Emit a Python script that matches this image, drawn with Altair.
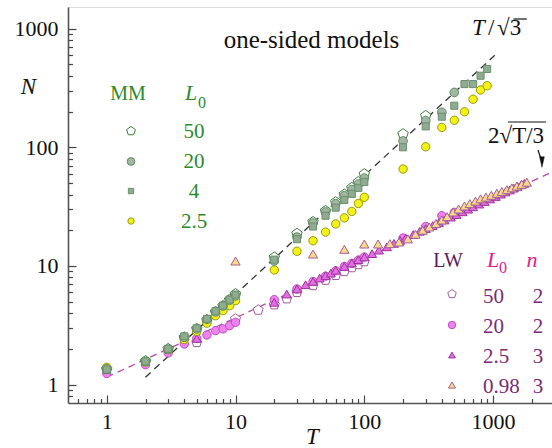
import altair as alt
import pandas as pd

# ------------------------------------------------------------------ data
# MM series
MM50_T = [1, 2, 3, 4, 5, 6, 7, 8, 9, 10, 20, 30, 40, 50, 60, 70, 80, 90, 100, 200, 300]
MM50_N = [1.35, 1.58, 2.0, 2.5, 2.95, 3.5, 4.1, 4.6, 5.2, 5.8, 11.8, 18.7, 23.5, 29.1, 34.5, 40.0, 45.5, 51.0, 59.4, 129, 184]

MM20_T = [1, 2, 3, 4, 5, 6, 7, 8, 9, 10, 20, 30, 40, 50, 60, 70, 80, 90, 100, 200, 300, 400, 500]
MM20_N = [1.36, 1.57, 1.98, 2.5, 2.95, 3.55, 4.1, 4.6, 5.15, 5.6, 11.0, 17.5, 23.0, 28.5, 33.5, 39.0, 44.0, 49.0, 55.0, 113, 168, 197, 290]

MM4_T = [1, 2, 3, 4, 5, 6, 7, 8, 9, 10, 20, 30, 40, 50, 60, 70, 80, 90, 100, 200, 300, 400, 500, 600, 700, 800, 900]
MM4_N = [1.34, 1.57, 2.0, 2.55, 2.98, 3.58, 4.15, 4.63, 5.2, 5.74, 11.3, 16.8, 21.5, 26.5, 31.0, 36.0, 40.5, 45.5, 51.0, 100, 150, 181, 224, 341, 341, 401, 457]

MM25_T = [1, 2, 3, 4, 5, 6, 7, 8, 9, 10, 20, 30, 40, 50, 60, 70, 80, 90, 100, 200, 300, 400, 500, 600, 700, 800, 900]
MM25_N = [1.40, 1.55, 1.97, 2.4, 2.81, 3.3, 3.81, 4.2, 4.63, 5.1, 9.25, 13.3, 16.3, 19.3, 22.6, 25.4, 28.8, 33.6, 37.9, 65.6, 101, 147, 169, 199, 254, 304, 330]

# LW series
LW50_T = [5, 10, 15, 20, 25, 30, 40, 50, 60, 70, 80, 90, 100]
LW50_N = [2.27, 3.58, 4.25, 4.72, 5.3, 6.0, 6.85, 7.6, 8.35, 9.0, 9.7, 10.3, 10.9]

LW20_T = [1, 2, 3, 4, 5, 6, 7, 8, 9, 10, 20, 30, 40, 50, 60, 70, 80, 90, 100, 200, 300, 400, 500]
LW20_N = [1.24, 1.47, 1.85, 2.2, 2.45, 2.62, 2.85, 2.95, 3.14, 3.35, 5.2, 6.4, 7.4, 8.2, 9.1, 9.9, 10.5, 11.2, 11.9, 17.2, 21.5, 26.5, 28.3]

LW25_T = [5, 20, 25, 30, 35, 40, 45, 50, 55, 60, 70, 80, 90, 100, 115, 130, 150, 170, 190, 210, 240, 270,
          300, 340, 380, 420, 470, 520, 580, 640, 700, 780, 860, 950, 1050, 1150, 1250, 1350, 1450, 1550, 1650, 1750]
LW25_N = [2.45, 4.94, 5.8, 6.4, 6.95, 7.4, 7.9, 8.3, 8.7, 9.2, 9.9, 10.6, 11.3, 11.9, 12.7, 13.6, 14.5, 15.5, 16.4, 17.2, 18.4, 19.6,
          20.6, 21.9, 23.2, 24.4, 25.8, 27.1, 28.6, 30.1, 31.5, 33.2, 34.9, 36.7, 38.5, 40.3, 42.0, 43.7, 45.3, 46.8, 48.3, 49.7]

LW098_T = [10, 40, 70, 100, 128, 158, 186, 218, 250, 284, 320, 360, 400, 440, 490, 540, 600, 660, 730, 800,
           880, 970, 1070, 1170, 1280, 1400, 1530, 1670, 1830]
LW098_N = [11.0, 12.6, 13.8, 15.3, 15.3, 15.4, 15.9, 16.9, 18.5, 20.0, 21.3, 22.8, 24.4, 26.0, 28.5, 30.2, 32.0, 33.5, 35.2, 36.8,
           38.0, 39.4, 41.0, 42.4, 43.9, 45.5, 47.1, 48.7, 50.8]

# guide lines  N = T/sqrt(3)  and  N = 2 sqrt(T/3)
LINE_A_T = [2, 1070]
LINE_A_N = [1.155, 617.8]
LINE_B_T = [1, 2870]
LINE_B_N = [1.155, 61.86]

# axis ticks
MAJOR = [1, 10, 100, 1000]
MINOR_X = [0.6, 0.7, 0.8, 0.9, 2, 3, 4, 5, 6, 7, 8, 9, 20, 30, 40, 50, 60, 70, 80, 90,
           200, 300, 400, 500, 600, 700, 800, 900, 2000]
MINOR_Y = [0.8, 0.9, 2, 3, 4, 5, 6, 7, 8, 9, 20, 30, 40, 50, 60, 70, 80, 90,
           200, 300, 400, 500, 600, 700, 800, 900]

# legend texts (anchors in data units)
MM_LEG_VALUES = ["50", "20", "4", "2.5"]
MM_LEG_SYM_N = [137.1, 75.9, 42.8, 23.9]
MM_LEG_TXT_N = [119.7, 66.9, 37.4, 20.9]
LW_LEG_VALUES = ["50", "20", "2.5", "0.98"]
LW_LEG_NVAL = ["2", "2", "3", "3"]
LW_LEG_SYM_N = [5.80, 3.18, 1.776, 0.992]
LW_LEG_TXT_N = [4.87, 2.72, 1.52, 0.85]

# ------------------------------------------------------------------ styling
FONT = "Liberation Serif"
W, H = 484, 396
xs = alt.Scale(type="log", domain=[0.5, 2870], nice=False)
ys = alt.Scale(type="log", domain=[0.70, 1521], nice=False)
PENT = "M0,-1L0.951,-0.309L0.588,0.809L-0.588,0.809L-0.951,-0.309Z"
ARROW = "M-0.45,-1L0.45,-1L0,1Z"

GREEN = "#2b8a2b"
PURPLE = "#7a2a78"
PINK = "#e0208c"


def xy(df):
    return dict(x=alt.X("T:Q", scale=xs, axis=None), y=alt.Y("N:Q", scale=ys, axis=None))


def pts(T, N, shape, size, fill, stroke, sw=1.0):
    df = pd.DataFrame({"T": T, "N": N})
    return alt.Chart(df).mark_point(shape=shape, size=size, filled=True, fill=fill, stroke=stroke,
                                    strokeWidth=sw, opacity=1, fillOpacity=1).encode(**xy(df))


def txt(T, N, s, size, color, align="left", style="normal"):
    df = pd.DataFrame({"T": T, "N": N, "s": s})
    return alt.Chart(df).mark_text(font=FONT, fontSize=size, color=color, align=align,
                                   baseline="alphabetic", fontStyle=style).encode(text="s:N", **xy(df))


def line(T, N, color, dash, width=1.3):
    df = pd.DataFrame({"T": T, "N": N})
    return alt.Chart(df).mark_line(color=color, strokeDash=dash, strokeWidth=width, clip=True).encode(**xy(df))


axdf = pd.DataFrame({"T": LINE_B_T, "N": LINE_B_N})
ax_common = dict(grid=False, labelFont=FONT, titleFont=FONT)

axis_labels = alt.Chart(axdf).mark_point(opacity=0).encode(
    x=alt.X("T:Q", scale=xs, axis=alt.Axis(
        orient="bottom", values=MAJOR, format="d", ticks=False, tickSize=0, labelPadding=8,
        labelFontSize=22, labelColor="#111", domain=True, domainColor="#555", domainWidth=1.6,
        title="T", titleFontSize=23, titleFontStyle="italic", titleFontWeight="normal", titleColor="#111",
        titleX=244, titleY=40, titleBaseline="alphabetic", titleAlign="center", **ax_common)),
    y=alt.Y("N:Q", scale=ys, axis=alt.Axis(
        orient="left", values=MAJOR, format="d", ticks=False, tickSize=0, labelPadding=10,
        labelFontSize=22, labelColor="#111", domain=True, domainColor="#555", domainWidth=1.6,
        title="N", titleFontSize=23, titleFontStyle="italic", titleFontWeight="normal", titleColor="#111",
        titleAngle=0, titleX=-40, titleY=86, titleBaseline="alphabetic", titleAlign="center", **ax_common)),
)


def tick_layer(vx, vy, size):
    return alt.Chart(axdf).mark_point(opacity=0).encode(
        x=alt.X("T:Q", scale=xs, axis=alt.Axis(
            orient="top", offset=-H, values=vx, labels=False, domain=False, ticks=True,
            tickSize=size, tickColor="#444", tickWidth=1.2, title=None, grid=False)),
        y=alt.Y("N:Q", scale=ys, axis=alt.Axis(
            orient="right", offset=-W, values=vy, labels=False, domain=False, ticks=True,
            tickSize=size, tickColor="#444", tickWidth=1.2, title=None, grid=False)),
    )


major_ticks = tick_layer(MAJOR, MAJOR, 8)
minor_ticks = tick_layer(MINOR_X, MINOR_Y, 4.5)

lines = line(LINE_A_T, LINE_A_N, "#333333", [7, 5]) + line(LINE_B_T, LINE_B_N, "#b04ca8", [7, 5])

# colours / shapes per series
S_MM50 = dict(shape=PENT, fill="white", stroke="#3d7d3d")
S_MM20 = dict(shape="circle", fill="#a3b5a3", stroke="#5f8f5f")
S_MM4 = dict(shape="square", fill="#8fac93", stroke="#6b8f6b")
S_MM25 = dict(shape="circle", fill="#f2f21a", stroke="#9a9a00")
S_LW50 = dict(shape=PENT, fill="white", stroke="#a05ca0")
S_LW20 = dict(shape="circle", fill="#ee82ee", stroke="#c04cc0")
S_LW25 = dict(shape="triangle-up", fill="#e070e0", stroke="#a030a0")
S_LW098 = dict(shape="triangle-up", fill="#fcd98a", stroke="#a0609a")

data_pts = (
    pts(LW50_T, LW50_N, size=110, **S_LW50)
    + pts(LW20_T, LW20_N, size=70, **S_LW20)
    + pts(LW25_T, LW25_N, size=80, **S_LW25)
    + pts(LW098_T, LW098_N, size=85, **S_LW098)
    + pts(MM50_T, MM50_N, size=120, **S_MM50)
    + pts(MM25_T, MM25_N, size=70, **S_MM25)
    + pts(MM20_T, MM20_N, size=75, **S_MM20)
    + pts(MM4_T, MM4_N, size=50, **S_MM4)
)

# legends
mm_x, mm_tx = 1.543, 4.76
legend_mm = (
    txt([1.462], [250], ["MM"], 20, GREEN, align="center")
    + txt([4.053], [250], ["L"], 22, GREEN, style="italic")
    + txt([5.11], [214.2], ["0"], 16, GREEN)
    + pts([mm_x], [MM_LEG_SYM_N[0]], size=85, **S_MM50)
    + pts([mm_x], [MM_LEG_SYM_N[1]], size=60, **S_MM20)
    + pts([mm_x], [MM_LEG_SYM_N[2]], size=28, **S_MM4)
    + pts([mm_x], [MM_LEG_SYM_N[3]], size=40, **S_MM25)
    + txt([mm_tx] * 4, MM_LEG_TXT_N, MM_LEG_VALUES, 21, GREEN, align="center")
)

lw_x, lw_tx, lw_nx = 480, 836, 2235
legend_lw = (
    txt([447], [9.80], ["LW"], 20, "#5d1a5d", align="center")
    + txt([898], [9.80], ["L"], 22, PINK, style="italic")
    + txt([1112], [8.72], ["0"], 16, PINK)
    + txt([2007], [9.80], ["n"], 22, PINK, align="center", style="italic")
    + pts([lw_x], [LW_LEG_SYM_N[0]], size=80, **S_LW50)
    + pts([lw_x], [LW_LEG_SYM_N[1]], size=55, **S_LW20)
    + pts([lw_x], [LW_LEG_SYM_N[2]], size=45, **S_LW25)
    + pts([lw_x], [LW_LEG_SYM_N[3]], size=50, **S_LW098)
    + txt([lw_tx] * 4, LW_LEG_TXT_N, LW_LEG_VALUES, 21, PURPLE)
    + txt([lw_nx] * 4, LW_LEG_TXT_N, LW_LEG_NVAL, 21, PURPLE, align="center")
)

# annotations
bar_a = pd.DataFrame({"T": [1440], "T2": [1830], "N": [1205]})
bar_b = pd.DataFrame({"T": [1307], "T2": [2578], "N": [163.3]})
arrow_df = pd.DataFrame({"T": [2235, 2399], "N": [94.8, 75.1]})
annot = (
    txt([38.9], [686], ["one-sided models"], 25, "#111", align="center")
    + txt([686.7], [883], ["T"], 23, "#111", style="italic")
    + txt([914], [883], ["/"], 23, "#111")
    + txt([1074], [883], ["√3"], 23, "#111")
    + alt.Chart(bar_a).mark_rule(color="#111", strokeWidth=1.2).encode(
        x=alt.X("T:Q", scale=xs, axis=None), x2="T2:Q", y=alt.Y("N:Q", scale=ys, axis=None))
    + txt([914], [108.6], ["2√T/3"], 23, "#111")
    + alt.Chart(bar_b).mark_rule(color="#111", strokeWidth=1.2).encode(
        x=alt.X("T:Q", scale=xs, axis=None), x2="T2:Q", y=alt.Y("N:Q", scale=ys, axis=None))
    + alt.Chart(arrow_df).mark_line(color="#111", strokeWidth=1.2).encode(**xy(arrow_df))
    + pts([2399], [75.1], shape=ARROW, size=110, fill="#111", stroke="#111", sw=0.5)
)

chart = alt.layer(
    axis_labels, major_ticks, minor_ticks, lines, data_pts, legend_mm, legend_lw, annot
).properties(
    width=W, height=H, padding={"left": 68, "top": 7, "right": 0, "bottom": 45},
    autosize=alt.AutoSizeParams(type="none"),
).configure_view(stroke="#555", strokeWidth=1.6).configure(background="white")

chart.save("out.html", embed_options={"renderer": "svg", "actions": False})
